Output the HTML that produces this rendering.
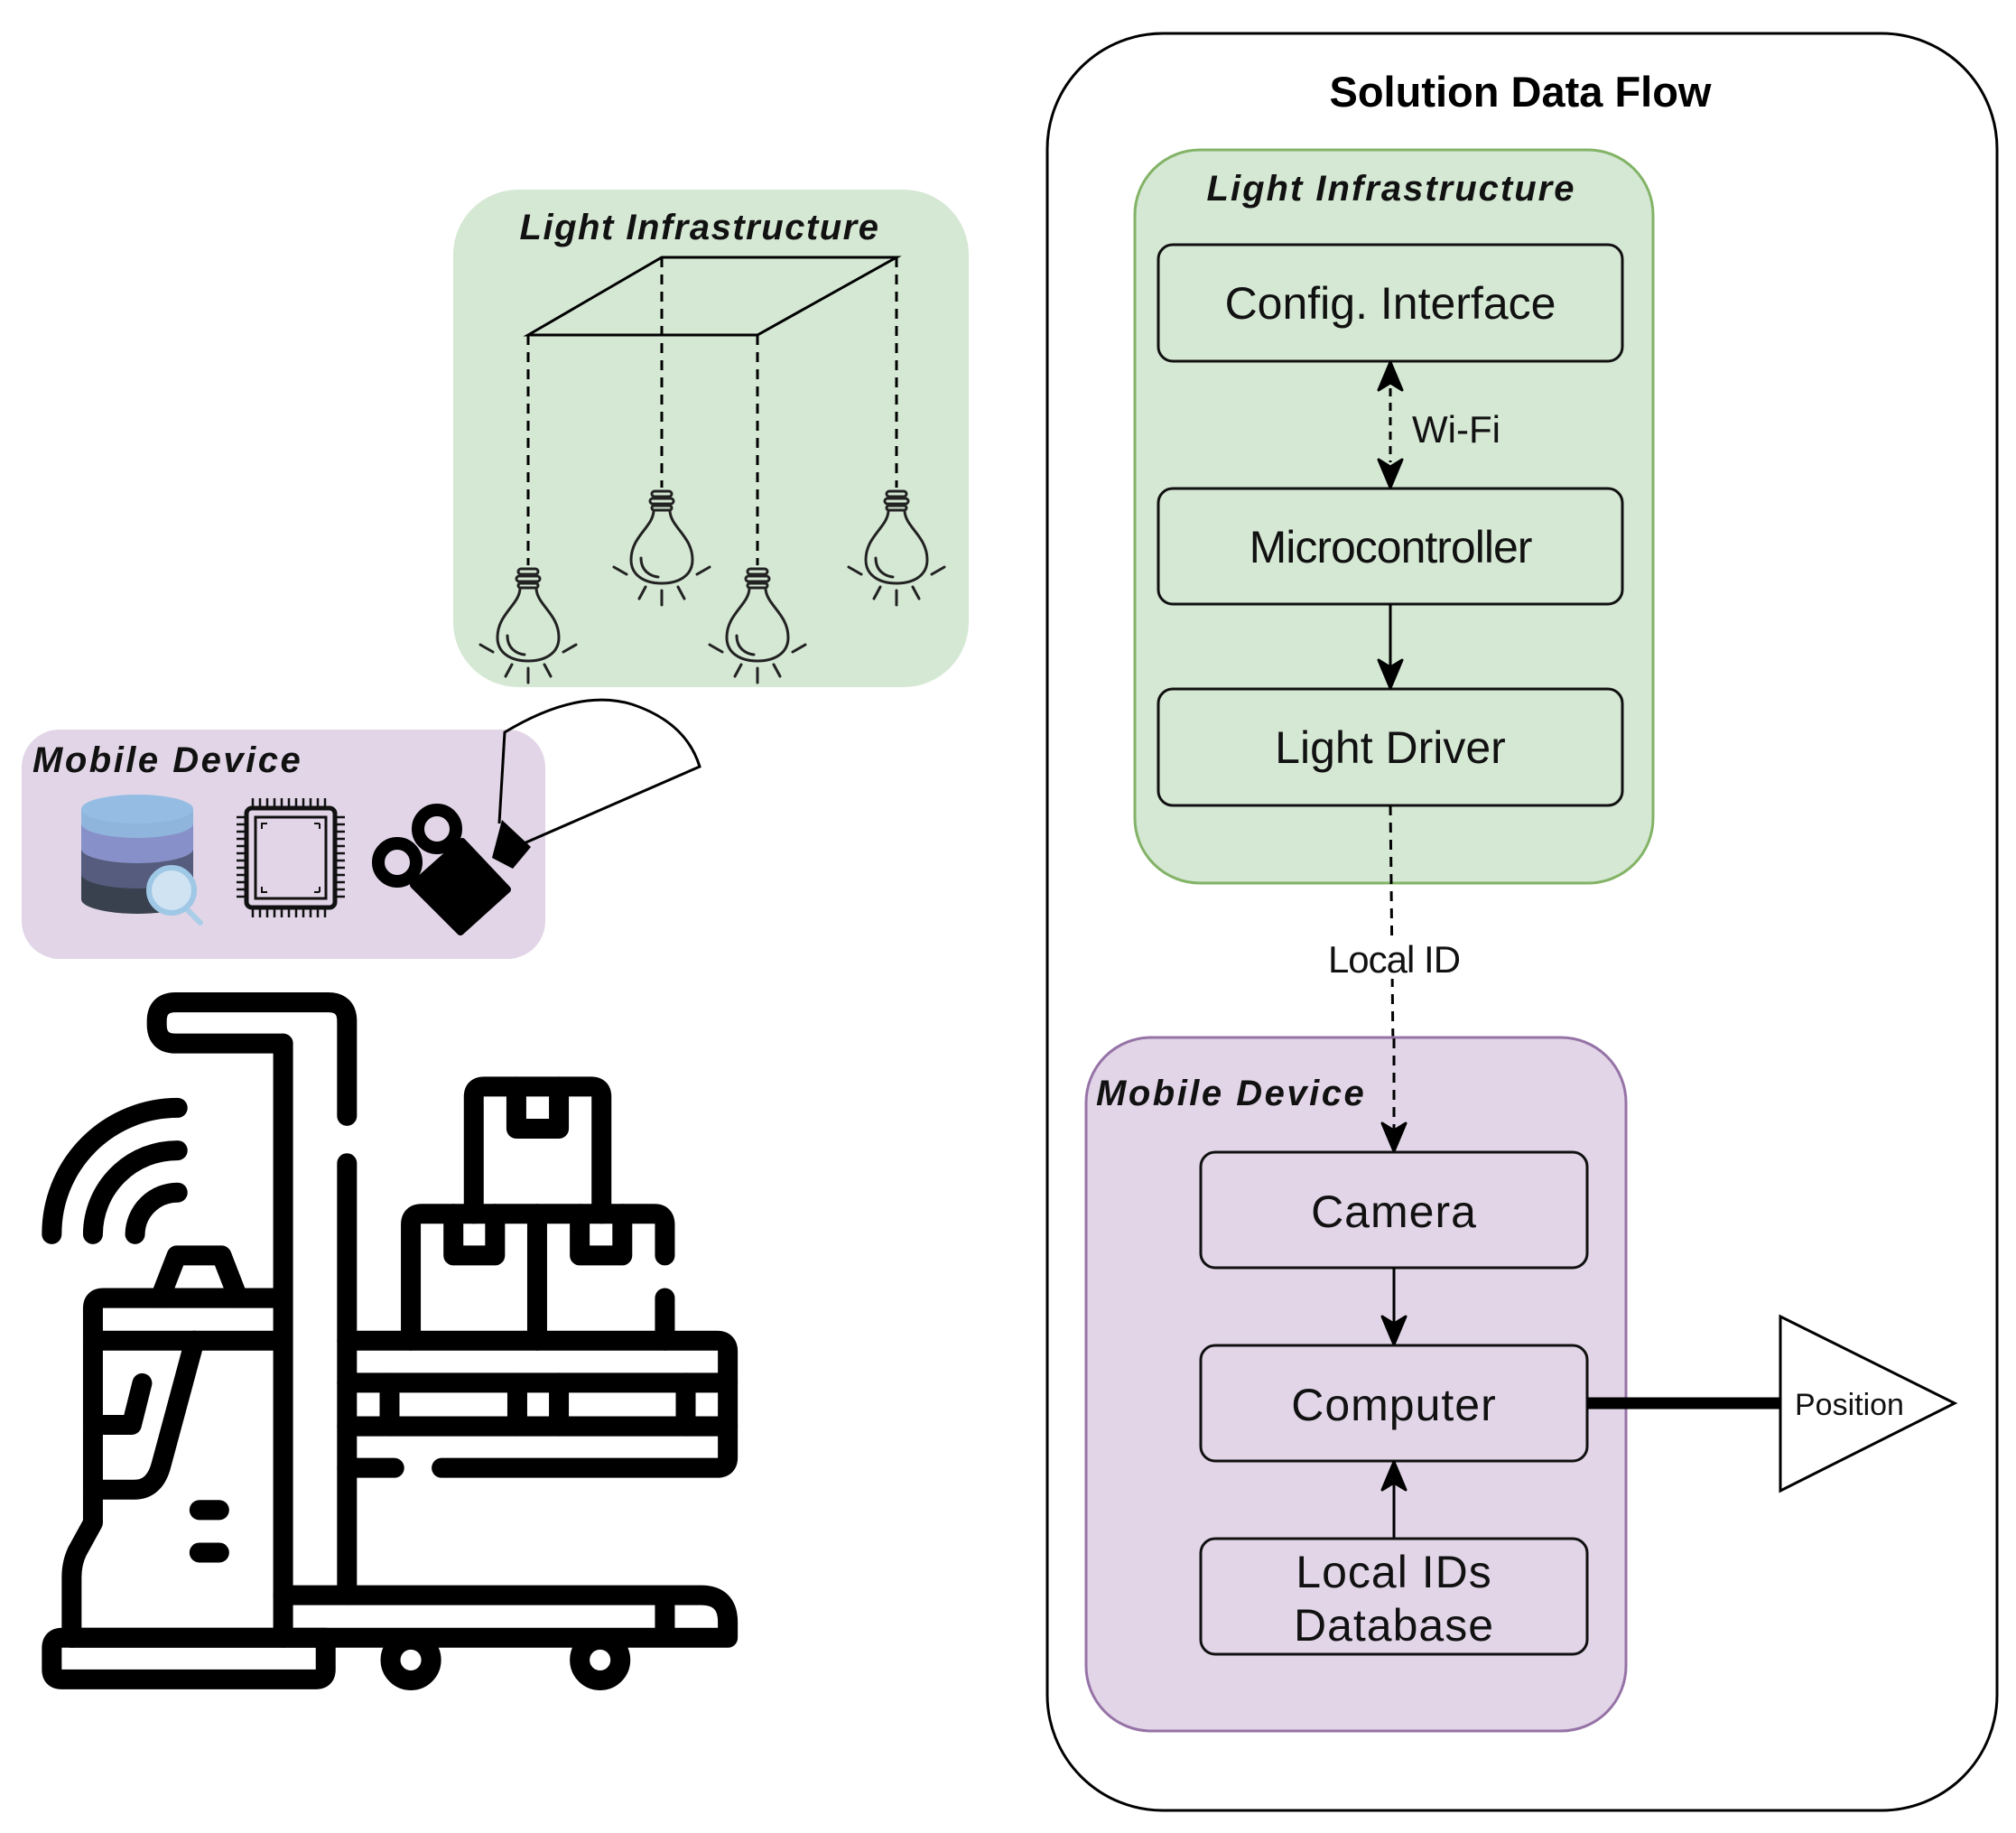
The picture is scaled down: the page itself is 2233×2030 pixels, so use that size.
<!DOCTYPE html>
<html><head><meta charset="utf-8"><style>
html,body{margin:0;padding:0;background:#fff}
svg{display:block}
text{font-family:"Liberation Sans",Arial,sans-serif}
</style></head><body>
<svg width="2233" height="2030" viewBox="0 0 2233 2030" xmlns="http://www.w3.org/2000/svg">
<defs>
<g id="bulb" fill="none" stroke="#222" stroke-width="3" stroke-linecap="round">
  <rect x="-11" y="0" width="22" height="6" rx="3"/>
  <rect x="-13" y="8" width="26" height="6" rx="3"/>
  <rect x="-11" y="16" width="22" height="5" rx="2.5"/>
  <path d="M-9,22 C-10,40 -34,50 -34,76 C-34,94 -18,102 0,102 C18,102 34,94 34,76 C34,50 10,40 9,22"/>
  <path d="M-23,74 C-23,88 -13,94 -4,95"/>
  <path d="M0,110 V126 M-18,106 L-25,119 M18,106 L25,119 M-39,92 L-53,84 M39,92 L53,84"/>
</g>
</defs>

<!-- LEFT: Light infrastructure -->
<rect x="502" y="210" width="571" height="551" rx="72" fill="#d5e8d4"/>
<text x="775" y="265" font-size="40" font-weight="bold" font-style="italic" text-anchor="middle" letter-spacing="1.5" fill="#111">Light Infrastructure</text>
<path d="M585,371 L733,285 L993,285 L839,371 Z" fill="none" stroke="#000" stroke-width="3"/>
<g stroke="#000" stroke-width="3" stroke-dasharray="11,8">
  <line x1="585" y1="371" x2="585" y2="626"/>
  <line x1="733" y1="285" x2="733" y2="540"/>
  <line x1="839" y1="371" x2="839" y2="626"/>
  <line x1="993" y1="285" x2="993" y2="540"/>
</g>
<use href="#bulb" x="585" y="630"/>
<use href="#bulb" x="733" y="544"/>
<use href="#bulb" x="839" y="630"/>
<use href="#bulb" x="993" y="544"/>

<!-- LEFT: Mobile device -->
<rect x="24" y="808" width="580" height="254" rx="42" fill="#e1d5e7"/>
<text x="36" y="855" font-size="40" font-weight="bold" font-style="italic" letter-spacing="2.5" fill="#111">Mobile Device</text>
<g>
  <path d="M90,896 V996 A62,16 0 0 0 214,996 V896 Z" fill="#38414d"/>
  <path d="M90,896 V968 A62,16 0 0 0 214,968 V896 Z" fill="#555c7d"/>
  <path d="M90,896 V940 A62,16 0 0 0 214,940 V896 Z" fill="#8790c8"/>
  <path d="M90,896 V912 A62,16 0 0 0 214,912 V896 Z" fill="#8fb5dd"/>
  <ellipse cx="152" cy="896" rx="62" ry="16" fill="#95bde3"/>
  <line x1="205" y1="1005" x2="222" y2="1022" stroke="#aacde8" stroke-width="6" stroke-linecap="round"/>
  <circle cx="190" cy="986" r="25" fill="#cfe3f2" stroke="#9fc7e6" stroke-width="6"/>
</g>
<g fill="none" stroke="#111">
  <rect x="273" y="895" width="98" height="110" rx="6" stroke-width="5"/>
  <rect x="283" y="905" width="78" height="90" stroke-width="3"/>
  <path d="M290,918 V912 H296 M354,912 H348 M354,912 V918 M290,982 V988 H296 M354,988 H348 M354,988 V982" stroke-width="2"/>
  <path d="M280,884 V895 M288,884 V895 M296,884 V895 M304,884 V895 M312,884 V895 M320,884 V895 M328,884 V895 M336,884 V895 M344,884 V895 M352,884 V895 M360,884 V895
           M280,1005 V1016 M288,1005 V1016 M296,1005 V1016 M304,1005 V1016 M312,1005 V1016 M320,1005 V1016 M328,1005 V1016 M336,1005 V1016 M344,1005 V1016 M352,1005 V1016 M360,1005 V1016
           M262,905 H273 M262,913 H273 M262,921 H273 M262,929 H273 M262,937 H273 M262,945 H273 M262,953 H273 M262,961 H273 M262,969 H273 M262,977 H273 M262,985 H273 M262,993 H273
           M371,905 H382 M371,913 H382 M371,921 H382 M371,929 H382 M371,937 H382 M371,945 H382 M371,953 H382 M371,961 H382 M371,969 H382 M371,977 H382 M371,985 H382 M371,993 H382" stroke-width="2.5"/>
</g>
<g>
  <circle cx="484" cy="918" r="21" fill="none" stroke="#000" stroke-width="14"/>
  <circle cx="440" cy="955" r="21" fill="none" stroke="#000" stroke-width="14"/>
  <path d="M458,980 L510,1032 L562,985 L512,932 Z" fill="#000" stroke="#000" stroke-width="8" stroke-linejoin="round"/>
  <path d="M545,950 L556,908 L588,938 L568,962 Z" fill="#000"/>
</g>
<path d="M553,912 L559,811 Q640,762 700,780 Q760,800 775,849 L578,935" fill="none" stroke="#000" stroke-width="3"/>

<!-- Forklift -->
<g transform="translate(28,1076) scale(0.524)" fill="none" stroke="#000" stroke-width="42" stroke-linecap="round" stroke-linejoin="round">
  <path d="M680,305 V105 Q680,65 640,65 H318 Q278,65 278,105 V112 Q278,152 318,152 H545"/>
  <path d="M545,152 V1408"/>
  <path d="M680,405 V1318"/>
  <path d="M545,1318 H1428 Q1485,1318 1485,1375 V1408 H98"/>
  <path d="M1352,1340 V1395"/>
  <path d="M98,1408 V1280 Q98,1250 110,1225 L143,1165 V712 Q143,690 165,690 H545"/>
  <path d="M143,780 H545"/>
  <path d="M285,690 L320,600 H415 L450,690"/>
  <path d="M358,780 L288,1040 Q275,1095 230,1095 H143"/>
  <path d="M247,870 L225,958 H143"/>
  <path d="M368,1138 H410 M368,1228 H410"/>
  <path d="M78,1408 H635 V1475 Q635,1496 614,1496 H77 Q56,1496 56,1475 V1430 Q56,1408 78,1408"/>
  <circle cx="815" cy="1455" r="43"/>
  <circle cx="1215" cy="1455" r="43"/>
  <path d="M56,555 A266,266 0 0 1 322,288"/>
  <path d="M143,555 A178,178 0 0 1 322,378"/>
  <path d="M232,555 A90,90 0 0 1 322,467"/>
  <path d="M680,780 H1462 Q1485,780 1485,803 V1027 Q1485,1049 1462,1049 H880"/>
  <path d="M680,1049 H780"/>
  <path d="M680,869 H1485 M680,961 H1485"/>
  <path d="M770,869 V961 M1040,869 V961 M1128,869 V961 M1396,869 V961"/>
  <path d="M815,780 V535 Q815,512 838,512 H1330 Q1352,512 1352,535 V600 M1352,690 V780"/>
  <path d="M1082,512 V780"/>
  <path d="M948,512 V265 Q948,243 970,243 H1196 Q1218,243 1218,265 V512"/>
  <path d="M1038,243 V332 H1128 V243"/>
  <path d="M905,512 V600 H993 V512"/>
  <path d="M1172,512 V600 H1262 V512"/>
</g>

<!-- RIGHT -->
<rect x="1160" y="37" width="1052" height="1968" rx="128" fill="#fff" stroke="#000" stroke-width="3"/>
<text x="1684" y="118" font-size="47" font-weight="bold" text-anchor="middle" fill="#000">Solution Data Flow</text>

<rect x="1257" y="166" width="574" height="812" rx="72" fill="#d5e8d4" stroke="#82b366" stroke-width="3"/>
<text x="1541" y="222" font-size="40" font-weight="bold" font-style="italic" text-anchor="middle" letter-spacing="2" fill="#111">Light Infrastructure</text>
<rect x="1283" y="271" width="514" height="129" rx="16" fill="#d5e8d4" stroke="#111" stroke-width="3"/>
<text x="1540" y="353" font-size="50" text-anchor="middle" fill="#111">Config. Interface</text>
<rect x="1283" y="541" width="514" height="128" rx="16" fill="#d5e8d4" stroke="#111" stroke-width="3"/>
<text x="1540" y="623" font-size="50" text-anchor="middle" fill="#111" letter-spacing="-1">Microcontroller</text>
<rect x="1283" y="763" width="514" height="129" rx="16" fill="#d5e8d4" stroke="#111" stroke-width="3"/>
<text x="1540" y="845" font-size="50" text-anchor="middle" fill="#111">Light Driver</text>

<line x1="1540" y1="430" x2="1540" y2="512" stroke="#000" stroke-width="3" stroke-dasharray="9,7"/>
<path d="M1540,401 L1553,432 L1540,424 L1527,432 Z" fill="#000" stroke="#000" stroke-width="3" stroke-linejoin="round"/>
<path d="M1540,540 L1553,509 L1540,517 L1527,509 Z" fill="#000" stroke="#000" stroke-width="3" stroke-linejoin="round"/>
<text x="1564" y="490" font-size="42" fill="#111">Wi-Fi</text>

<line x1="1540" y1="669" x2="1540" y2="740" stroke="#000" stroke-width="3"/>
<path d="M1540,762 L1553,731 L1540,739 L1527,731 Z" fill="#000" stroke="#000" stroke-width="3" stroke-linejoin="round"/>

<line x1="1540" y1="892" x2="1544" y2="1250" stroke="#000" stroke-width="3" stroke-dasharray="11,8"/>
<rect x="1455" y="1038" width="178" height="46" fill="#fff"/>
<text x="1544" y="1077" font-size="42" text-anchor="middle" fill="#111" letter-spacing="-1">Local ID</text>

<rect x="1203" y="1149" width="598" height="768" rx="72" fill="#e1d5e7" stroke="#9673a6" stroke-width="3"/>
<text x="1214" y="1224" font-size="40" font-weight="bold" font-style="italic" letter-spacing="2.5" fill="#111">Mobile Device</text>
<line x1="1544" y1="1150" x2="1544" y2="1250" stroke="#000" stroke-width="3" stroke-dasharray="11,8"/>
<path d="M1544,1275 L1557,1244 L1544,1252 L1531,1244 Z" fill="#000" stroke="#000" stroke-width="3" stroke-linejoin="round"/>

<rect x="1330" y="1276" width="428" height="128" rx="16" fill="#e1d5e7" stroke="#111" stroke-width="3"/>
<text x="1544" y="1359" font-size="50" text-anchor="middle" fill="#111" letter-spacing="1">Camera</text>
<line x1="1544" y1="1404" x2="1544" y2="1467" stroke="#000" stroke-width="3"/>
<path d="M1544,1489 L1557,1458 L1544,1466 L1531,1458 Z" fill="#000" stroke="#000" stroke-width="3" stroke-linejoin="round"/>

<rect x="1330" y="1490" width="428" height="128" rx="16" fill="#e1d5e7" stroke="#111" stroke-width="3"/>
<text x="1544" y="1573" font-size="50" text-anchor="middle" fill="#111" letter-spacing="1">Computer</text>
<line x1="1544" y1="1704" x2="1544" y2="1640" stroke="#000" stroke-width="3"/>
<path d="M1544,1619 L1557,1650 L1544,1642 L1531,1650 Z" fill="#000" stroke="#000" stroke-width="3" stroke-linejoin="round"/>

<rect x="1330" y="1704" width="428" height="128" rx="16" fill="#e1d5e7" stroke="#111" stroke-width="3"/>
<text x="1544" y="1758" font-size="50" text-anchor="middle" fill="#111" letter-spacing="1">Local IDs</text>
<text x="1544" y="1817" font-size="50" text-anchor="middle" fill="#111" letter-spacing="1">Database</text>

<line x1="1758" y1="1554" x2="1972" y2="1554" stroke="#000" stroke-width="13"/>
<path d="M1972,1458 L2165,1554 L1972,1651 Z" fill="#fff" stroke="#000" stroke-width="3"/>
<text x="1988" y="1567" font-size="34" fill="#111">Position</text>
</svg>
</body></html>
